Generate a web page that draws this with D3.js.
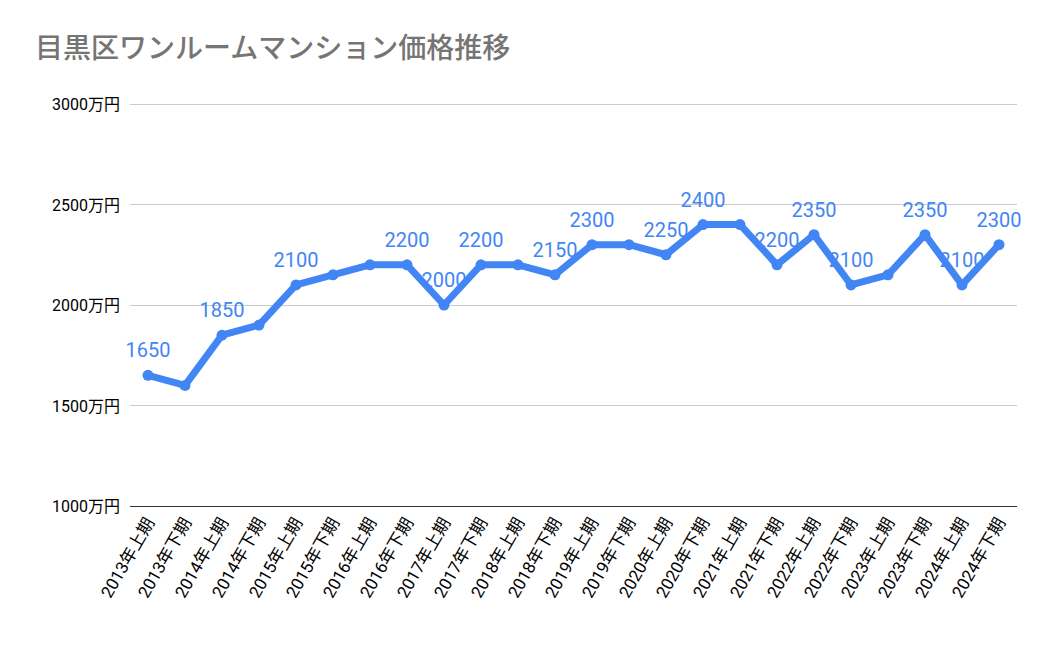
<!DOCTYPE html>
<html><head><meta charset="utf-8">
<script src="https://cdn.jsdelivr.net/npm/d3@7"></script>
<style>body{margin:0;background:#fff}</style></head>
<body><svg id="c" width="1050" height="649"></svg>
<script>
const categories = ["2013年上期","2013年下期","2014年上期","2014年下期","2015年上期","2015年下期","2016年上期","2016年下期","2017年上期","2017年下期","2018年上期","2018年下期","2019年上期","2019年下期","2020年上期","2020年下期","2021年上期","2021年下期","2022年上期","2022年下期","2023年上期","2023年下期","2024年上期","2024年下期"];
const prices = [1650,1600,1850,1900,2100,2150,2200,2200,2000,2200,2200,2150,2300,2300,2250,2400,2400,2200,2350,2100,2150,2350,2100,2300];
const labelled = [0,2,4,7,8,9,11,12,14,15,17,18,19,21,22,23];
const yTicks = [1000,1500,2000,2500,3000];

const svg = d3.select("#c");
const font = "Roboto, 'Noto Sans CJK JP', sans-serif";
const blue = "#4285f4";

svg.append("text").attr("x",35).attr("y",58).attr("font-size",28).attr("font-weight",500)
  .attr("fill","#757575").attr("font-family","'Noto Sans CJK JP', sans-serif")
  .text("目黒区ワンルームマンション価格推移");

const x = d3.scalePoint().domain(categories).range([148,999]);
const y = d3.scaleLinear().domain([1000,3000]).range([506,104]);

const grid = svg.append("g");
yTicks.forEach(t=>{
  grid.append("line").attr("x1",130).attr("x2",1017).attr("y1",y(t)).attr("y2",y(t))
    .attr("stroke", t===1000 ? "#333" : "#ccc").attr("stroke-width",1).attr("shape-rendering","crispEdges");
  grid.append("text").attr("x",120).attr("y",y(t)+6).attr("text-anchor","end")
    .attr("font-size",16).attr("font-family",font).attr("fill","#000").text(t+"万円");
});

svg.append("g").selectAll("text").data(categories).enter().append("text")
  .attr("transform",d=>`translate(${x(d)+7},${522}) rotate(-60)`)
  .attr("text-anchor","end").attr("font-size",17).attr("font-family",font).attr("fill","#000")
  .text(d=>d);

const line = d3.line().x((d,i)=>x(categories[i])).y(d=>y(d));
svg.append("path").datum(prices).attr("d",line).attr("fill","none")
  .attr("stroke",blue).attr("stroke-width",7).attr("stroke-linejoin","round");
svg.append("g").selectAll("circle").data(prices).enter().append("circle")
  .attr("cx",(d,i)=>x(categories[i])).attr("cy",d=>y(d)).attr("r",5.5).attr("fill",blue);

svg.append("g").selectAll("text").data(labelled).enter().append("text")
  .attr("x",i=>x(categories[i])).attr("y",i=>y(prices[i])-18)
  .attr("text-anchor","middle").attr("font-size",20).attr("font-family",font).attr("fill",blue)
  .text(i=>prices[i]);
</script></body></html>
